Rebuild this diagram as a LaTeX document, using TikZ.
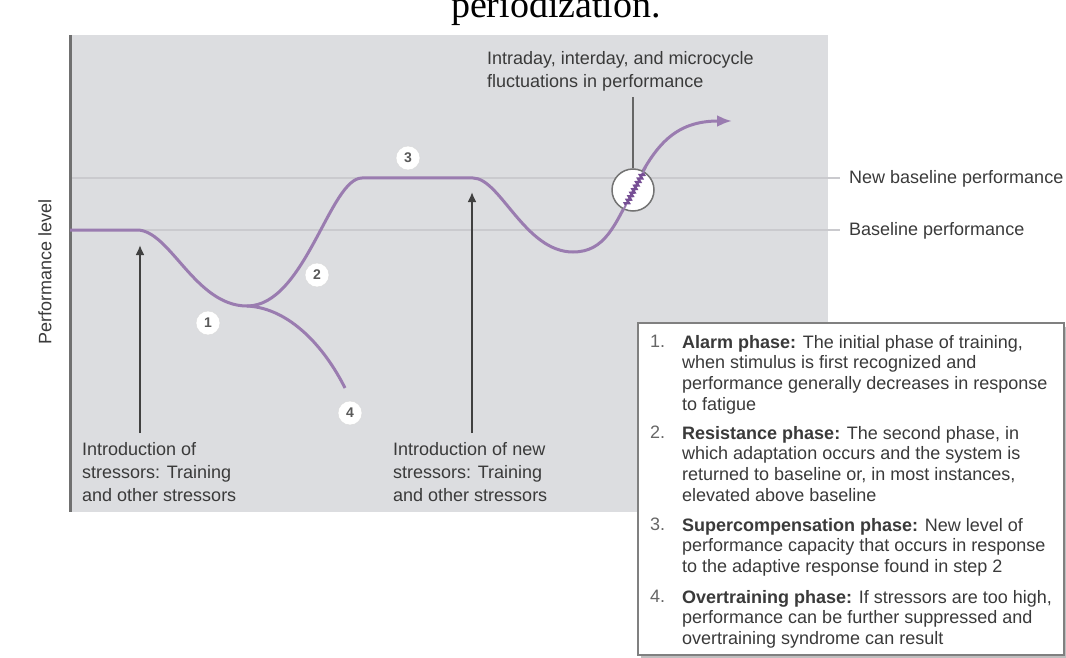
\documentclass[tikz,border=0pt]{standalone}
\usepackage{fontspec}
\setmainfont{Liberation Sans}
\newfontfamily\titlefont{Liberation Serif}
\usetikzlibrary{arrows.meta}
\usetikzlibrary{decorations.pathmorphing}

\definecolor{plotgray}{RGB}{220,221,224}
\definecolor{axisgray}{RGB}{112,112,112}
\definecolor{levelgray}{RGB}{202,202,206}
\definecolor{textgray}{RGB}{58,58,58}
\definecolor{curvepurple}{RGB}{154,124,176}
\definecolor{darkpurple}{RGB}{118,78,148}

\tikzset{
  txt/.style={font=\fontsize{18}{23}\selectfont, text=textgray, inner sep=0pt, align=left},
  legendtxt/.style={font=\fontsize{18}{20.7}\selectfont, text=textgray, inner sep=0pt, align=left, anchor=north west},
  phasedot/.style={circle, fill=white, draw=black!15, minimum size=24pt, inner sep=0pt,
    font=\bfseries\fontsize{14}{14}\selectfont, text=black!65},
  perfcurve/.style={draw=curvepurple, line width=3pt},
  stressarrow/.style={draw=black!75, line width=2.6pt, -{Latex[length=10pt,width=9pt]}},
}

\begin{document}
\begin{tikzpicture}[x=1pt,y=-1pt]
\useasboundingbox (0,0) rectangle (1066,658);

% plot area
\fill[plotgray] (70,35) rectangle (828,512);
\draw[levelgray, line width=1.2pt] (70,178) -- (840,178);
\draw[levelgray, line width=1.2pt] (70,230) -- (840,230);
\draw[axisgray, line width=3pt] (70,35) -- (70,512);

\node[font=\titlefont\fontsize{38}{38}\selectfont, anchor=base] (title) at (556,18) {periodization.};
\node[txt, rotate=90] (ylabel) at (45,272) {Performance level};

\node[txt, anchor=west] (newbase) at (849,179) {New baseline performance};
\node[txt, anchor=west] (base) at (849,231) {Baseline performance};

% performance curve
\coordinate (start) at (70,230);
\coordinate (low) at (247,306);
\coordinate (tip) at (732,121);
\draw[perfcurve, -{Latex[length=15pt,width=12pt]}] (start) -- (137,230)
  .. controls (170,230) and (195,306) .. (low)
  .. controls (305,306) and (330,178) .. (362,178) -- (473,178)
  .. controls (500,178) and (525,252) .. (573,252)
  .. controls (605,252) and (615,225) .. (633,190)
  .. controls (655,145) and (675,121) .. (tip);
\draw[perfcurve] (low) .. controls (290,308) and (325,348) .. (345,388);

% fluctuations
\node[circle, draw=black!55, line width=1.5pt, fill=white, minimum size=42pt, inner sep=0pt] (fluc) at (633,190) {};
\draw[curvepurple, line width=2pt] (622,212) -- (626,205);
\draw[darkpurple, line width=2.5pt, decorate, decoration={zigzag, amplitude=1.6pt, segment length=4pt}] (626,205) -- (643,173);
\draw[curvepurple, line width=2pt] (643,173) -- (646,167);
\node[txt, anchor=north west] (fluctext) at (487,51) {Intraday, interday, and microcycle\\fluctuations in performance};
\coordinate (ptr) at (633,97);
\draw[black!60, line width=1.5pt] (ptr) -- (fluc);

% phase numbers
\node[phasedot] (p1) at (208,323) {1};
\node[phasedot] (p2) at (317,275) {2};
\node[phasedot] (p3) at (408,158) {3};
\node[phasedot] (p4) at (350,413) {4};

% stressors
\node[txt, anchor=north west] (intro1) at (82,442) {Introduction of\\stressors: Training\\and other stressors};
\node[txt, anchor=north west] (intro2) at (393,442) {Introduction of new\\stressors: Training\\and other stressors};
\coordinate (s1) at (140,433);
\coordinate (h1) at (140,245);
\coordinate (s2) at (472,433);
\coordinate (h2) at (472,192);
\draw[stressarrow] (s1) -- (h1);
\draw[stressarrow] (s2) -- (h2);

% legend
\fill[black!25] (641,327) rectangle (1066,658);
\draw[fill=white, draw=black!50, line width=1.8pt] (638,323) rectangle (1064,655);
\node[legendtxt, text=black!60] (n1) at (650,335) {1.};
\node[legendtxt] (phase1) at (682,335) {\textbf{Alarm phase:} The initial phase of training,\\when stimulus is first recognized and\\performance generally decreases in response\\to fatigue};
\node[legendtxt, text=black!60] (n2) at (650,426) {2.};
\node[legendtxt] (phase2) at (682,426) {\textbf{Resistance phase:} The second phase, in\\which adaptation occurs and the system is\\returned to baseline or, in most instances,\\elevated above baseline};
\node[legendtxt, text=black!60] (n3) at (650,518) {3.};
\node[legendtxt] (phase3) at (682,518) {\textbf{Supercompensation phase:} New level of\\performance capacity that occurs in response\\to the adaptive response found in step 2};
\node[legendtxt, text=black!60] (n4) at (650,590) {4.};
\node[legendtxt] (phase4) at (682,590) {\textbf{Overtraining phase:} If stressors are too high,\\performance can be further suppressed and\\overtraining syndrome can result};
\end{tikzpicture}
\end{document}
